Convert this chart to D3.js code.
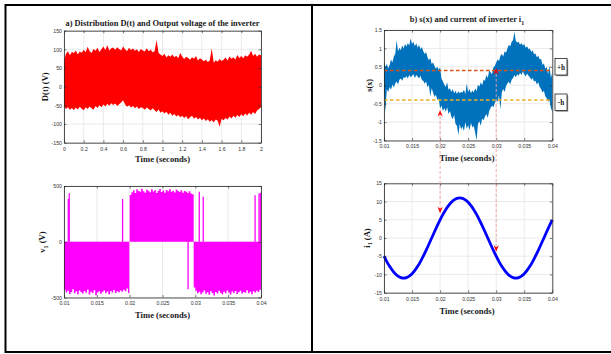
<!DOCTYPE html>
<html>
<head>
<meta charset="utf-8">
<script src="https://cdn.jsdelivr.net/npm/d3@7/dist/d3.min.js"></script>
<style>
    body { margin: 0; background: #fff; }
    svg { display: block; }
    .tick text { font-family: "Liberation Sans", Arial, sans-serif; font-size: 5.2px; fill: #333; }
    .lbl { font-family: "Liberation Serif", "Times New Roman", serif; font-weight: bold; fill: #1a1a1a; }
</style>
</head>
<body>
<div id="chart"></div>
<script>
// ---- data ----

// a) D(t), sampled every 0.02 s from 0 to 2 s (upper / lower edge of the red band)
const dStep = 0.02
const dUpper = [68, 88, 95, 84, 93, 90, 97, 86, 94, 91, 99, 92, 107, 95, 90, 101, 96, 104, 93, 100, 108,
    98, 111, 97, 103, 105, 99, 106, 101, 97, 108, 100, 95, 104, 98, 102, 96, 100, 93, 101, 97,
    94, 103, 95, 99, 92, 95, 125, 90, 86, 82, 88, 78, 84, 80, 86, 79, 83, 76, 90, 81,
    74, 80, 77, 72, 79, 75, 82, 70, 76, 73, 68, 72, 66, 70, 103, 64, 71, 67, 74, 69,
    72, 78, 70, 81, 75, 79, 73, 85, 77, 82, 76, 84, 80, 86, 96, 82, 88, 80, 86, 84]
const dLower = [-52, -60, -55, -62, -57, -63, -56, -61, -54, -59, -63, -55, -60, -53, -58, -62, -52, -57, -50, -55, -48,
    -53, -46, -51, -44, -49, -45, -52, -47, -42, -36, -48, -54, -50, -56, -52, -58, -53, -60, -55, -57,
    -62, -56, -60, -64, -58, -63, -68, -61, -70, -66, -72, -67, -75, -70, -78, -73, -80, -76, -82, -78,
    -84, -79, -87, -82, -78, -86, -81, -88, -83, -90, -85, -92, -87, -94, -89, -96, -88, -91, -107, -86,
    -90, -84, -88, -80, -85, -78, -83, -76, -81, -74, -79, -72, -77, -70, -75, -68, -73, -64, -60, -55]

// v1 output voltage, sampled every 0.25 ms from 0.01 s (band edge, 0 = gap)
const vStep = 0.00025
const vEdge = [-430, -455, -440, -468, -450, -425, -462, -445, -470, -438, -452, -465, -442, -458, -430, -472, -448, -460, -436, -480,
    -455, -444, -466, -450, -438, -462, -447, -470, -441, -455, -432, -460, -445, -452, -438, -448, -430, -445, -420,
    0,
    420, 445, 462, 438, 470, 455, 448, 475, 452, 440, 466, 458, 445, 470, 450, 462, 438, 455, 472, 446,
    460, 440, 465, 452, 470, 448, 458, 442, 468, 455, 446, 462, 440, 456, 448, 438, 452, 432, 425,
    -410, -440, -462, -448, -470, -455, -438, -466, -452, -475, -445, -460, -482, -450, -465, -440, -458, -470, -448, -462,
    -438, -455, -472, -446, -460, -442, -468, -452, -440, -465, -450, -458, -436, -462, -448, -470, -444, -456, -440, -450, -430, -445]
// isolated switching spikes of v1
const vSpikeT = [0.01065, 0.0108, 0.01892, 0.01985, 0.0289, 0.0306, 0.0312, 0.0391, 0.0397, 0.0399]
const vSpikeV = [383, 436, 383, -460, -427, 448, 404, 418, 433, 440]

// b) s(x), sampled every 0.25 ms from 0.01 s (upper / lower edge of the blue band)
const sStep = 0.00025
const sUpper = [0.62, 0.50, 0.58, 0.46, 0.55, 0.70, 0.62, 0.78, 0.85, 1.23, 0.92, 1.02, 0.95, 1.08, 1.00, 1.12,
    1.05, 1.15, 1.08, 1.27, 1.12, 1.18, 1.06, 1.14, 1.02, 1.10, 0.98, 1.04, 0.92, 0.85, 0.90, 0.76,
    0.68, 0.74, 0.58, 0.62, 0.52, 0.45, 0.50, 0.42, 0.48, 0.18, 0.10, 0.02, -0.05, 0.08, -0.12, -0.08,
    -0.18, -0.10, -0.22, -0.15, -0.24, -0.16, -0.22, -0.18, -0.20, -0.12, -0.24, 0.05, -0.18, -0.10, -0.22, -0.14,
    -0.20, -0.08, -0.16, 0.02, -0.04, 0.08, 0.00, 0.15, 0.12, 0.28, 0.20, 0.41, 0.35, 0.30, 0.48, 0.52,
    0.62, 0.70, 0.66, 0.80, 0.85, 0.78, 0.92, 0.88, 1.00, 1.10, 1.05, 1.18, 1.22, 1.45, 1.20, 1.16,
    1.18, 1.10, 1.15, 1.08, 1.12, 1.02, 1.06, 0.98, 1.00, 0.90, 0.95, 0.84, 0.86, 0.76, 0.80, 0.70,
    0.72, 0.55, 0.60, 0.45, 0.50, 0.30, 0.52, 0.20, 0.35]
const sLower = [-0.15, -0.72, -0.10, -0.18, -0.05, -0.12, 0.02, -0.06, 0.05, 0.10, 0.02, 0.15, 0.18, 0.12, 0.22, 0.20,
    0.25, 0.18, 0.28, 0.22, 0.26, 0.30, 0.20, 0.28, 0.24, 0.18, 0.26, 0.14, 0.12, 0.04, 0.10, -0.05,
    0.00, -0.30, -0.08, -0.20, -0.32, -0.26, -0.40, -0.35, -0.63, -0.55, -0.70, -0.62, -0.72, -0.60, -0.78, -0.70,
    -0.85, -0.92, -0.80, -1.05, -1.10, -1.35, -1.05, -1.20, -1.12, -1.25, -1.00, -1.18, -1.08, -1.22, -1.02, -1.15,
    -1.10, -1.28, -1.49, -1.05, -0.98, -1.10, -0.90, -0.95, -0.85, -0.78, -0.88, -0.70, -0.62, -0.55, -0.60, -0.48,
    -0.40, -0.45, -0.28, -0.65, -0.20, -0.10, -0.18, -0.02, 0.05, 0.10, 0.02, 0.15, 0.20, 0.28, 0.22, 0.30,
    0.26, 0.34, 0.28, 0.37, 0.30, 0.24, 0.32, 0.26, 0.22, 0.15, 0.20, 0.10, 0.12, 0.02, 0.08, -0.05,
    -0.10, -0.20, -0.15, -0.30, -0.35, -0.45, -0.40, -0.62, -0.72]
const hPlus = 0.4, hMinus = -0.4

// inverter current i1, sampled every 0.5 ms from 0.01 s
const iStep = 0.0005
const iVal = [-4.99, -6.47, -7.78, -8.90, -9.80, -10.46, -10.86, -11.0, -10.86, -10.46, -9.80, -8.90, -7.78, -6.47,
    -4.99, -3.40, -1.72, 0, 1.72, 3.40, 4.99, 6.47, 7.78, 8.90, 9.80, 10.46, 10.86, 11.0, 10.86, 10.46,
    9.80, 8.90, 7.78, 6.47, 4.99, 3.40, 1.72, 0, -1.72, -3.40, -4.99, -6.47, -7.78, -8.90, -9.80, -10.46,
    -10.86, -11.0, -10.86, -10.46, -9.80, -8.90, -7.78, -6.47, -4.99, -3.40, -1.72, 0, 1.72, 3.40, 4.99]

// switching instants marked by the red arrows
const arrowT = [0.02, 0.03]
const arrowS = [-0.67, 0.47]   // arrow tips on s(x)
const arrowI = [6.8, -3.75]    // arrow tips on i1

// tick labels
const xTicksD = [0, 0.2, 0.4, 0.6, 0.8, 1, 1.2, 1.4, 1.6, 1.8, 2]
const yTicksD = [-150, -100, -50, 0, 50, 100, 150]
const xTicksT = [0.01, 0.015, 0.02, 0.025, 0.03, 0.035, 0.04]
const yTicksV = [-500, 0, 500]
const yTicksS = [-1.5, -1, -0.5, 0, 0.5, 1, 1.5]
const yTicksI = [-15, -10, -5, 0, 5, 10, 15]

// ---- drawing ----
const svg = d3.select("#chart").append("svg")
    .attr("width", 611)
    .attr("height", 354)

// outer frame + divider
svg.append("rect")
    .attr("x", 5.5).attr("y", 5).attr("width", 640).attr("height", 347)
    .attr("fill", "none").attr("stroke", "#000").attr("stroke-width", 2)
svg.append("line")
    .attr("x1", 312).attr("x2", 312).attr("y1", 5).attr("y2", 352)
    .attr("stroke", "#000").attr("stroke-width", 2)

function panel(x, y, xTicks, yTicks) {
    const g = svg.append("g")
    const [x0, x1] = x.range()
    const [y0, y1] = y.range()
    const grid = g.append("g").attr("stroke", "#e2e2e2").attr("stroke-width", 0.7)
    grid.selectAll(".gx").data(xTicks).join("line")
        .attr("x1", d => x(d)).attr("x2", d => x(d)).attr("y1", y0).attr("y2", y1)
    grid.selectAll(".gy").data(yTicks).join("line")
        .attr("y1", d => y(d)).attr("y2", d => y(d)).attr("x1", x0).attr("x2", x1)
    const data = g.append("g")
    const axes = g.append("g")
    return { g, data, axes, draw() {
        const fmt = d => String(d)
        const none = () => ""
        const style = sel => {
            sel.selectAll("path.domain").attr("stroke", "#262626").attr("stroke-width", 0.8)
            sel.selectAll(".tick line").attr("stroke", "#262626").attr("stroke-width", 0.6)
        }
        axes.append("g").attr("transform", `translate(0,${y0})`)
            .call(d3.axisBottom(x).tickValues(xTicks).tickFormat(fmt).tickSize(-2.5).tickSizeOuter(0).tickPadding(4.3))
            .call(style)
        axes.append("g").attr("transform", `translate(0,${y1})`)
            .call(d3.axisTop(x).tickValues(xTicks).tickFormat(none).tickSize(-2.5).tickSizeOuter(0))
            .call(style)
        axes.append("g").attr("transform", `translate(${x0},0)`)
            .call(d3.axisLeft(y).tickValues(yTicks).tickFormat(fmt).tickSize(-2.5).tickSizeOuter(0).tickPadding(2))
            .call(style)
        axes.append("g").attr("transform", `translate(${x1},0)`)
            .call(d3.axisRight(y).tickValues(yTicks).tickFormat(none).tickSize(-2.5).tickSizeOuter(0))
            .call(style)
        axes.selectAll("text").attr("font-family", null).attr("font-size", null)
    }}
}

function label(text, x, y, size, rotate) {
    const t = svg.append("text").attr("class", "lbl")
        .attr("font-size", size)
        .attr("text-anchor", "middle")
        .attr("transform", `translate(${x},${y})` + (rotate ? " rotate(-90)" : ""))
    return t
}

// a) top: D(t)
const xD = d3.scaleLinear().domain([0, 2]).range([64, 261])
const yD = d3.scaleLinear().domain([-150, 150]).range([142.7, 30.7])
const pD = panel(xD, yD, xTicksD, yTicksD)
pD.data.append("path")
    .datum(dUpper.map((u, i) => ({ t: i * dStep, hi: u, lo: dLower[i] })))
    .attr("fill", "#ff0000")
    .attr("d", d3.area().x(d => xD(d.t)).y0(d => yD(d.lo)).y1(d => yD(d.hi)))
pD.draw()
label("", 162.5, 26, 8.4).text("a) Distribution D(t) and Output voltage of the inverter")
label("", 162.5, 161.5, 8.6).text("Time (seconds)")
label("", 48, 86.7, 8.6, true).text("D(t) (V)")

// a) bottom: v1
const xV = d3.scaleLinear().domain([0.01, 0.04]).range([64, 261])
const yV = d3.scaleLinear().domain([-500, 500]).range([297.5, 186])
const pV = panel(xV, yV, xTicksT, yTicksV)
pV.data.append("path")
    .datum(vEdge.map((v, i) => ({ t: 0.01 + i * vStep, v })))
    .attr("fill", "#ff00ff")
    .attr("d", d3.area().curve(d3.curveStepAfter).x(d => xV(d.t)).y0(yV(0)).y1(d => yV(d.v)))
pV.data.selectAll("line.spike").data(vSpikeT).join("line")
    .attr("x1", d => xV(d)).attr("x2", d => xV(d))
    .attr("y1", yV(0)).attr("y2", (d, i) => yV(vSpikeV[i]))
    .attr("stroke", "#ff00ff").attr("stroke-width", 1.3)
pV.draw()
label("", 162.5, 318, 8.6).text("Time (seconds)")
const vl = label("", 45, 242, 8.6, true)
vl.append("tspan").text("v")
vl.append("tspan").attr("font-size", 6).attr("dy", 2.5).text("1")
vl.append("tspan").attr("dy", -2.5).text(" (V)")

// b) top: s(x)
const xS = d3.scaleLinear().domain([0.01, 0.04]).range([384, 552.3])
const yS = d3.scaleLinear().domain([-1.5, 1.5]).range([140.5, 30])
const pS = panel(xS, yS, xTicksT, yTicksS)
pS.data.append("path")
    .datum(sUpper.map((u, i) => ({ t: 0.01 + i * sStep, hi: u, lo: sLower[i] })))
    .attr("fill", "#0072bd")
    .attr("d", d3.area().x(d => xS(d.t)).y0(d => yS(d.lo)).y1(d => yS(d.hi)))
pS.data.append("line")
    .attr("x1", xS(0.01)).attr("x2", xS(0.04)).attr("y1", yS(hPlus)).attr("y2", yS(hPlus))
    .attr("stroke", "#d95319").attr("stroke-width", 1.3).attr("stroke-dasharray", "3.5,2.5")
pS.data.append("line")
    .attr("x1", xS(0.01)).attr("x2", xS(0.04)).attr("y1", yS(hMinus)).attr("y2", yS(hMinus))
    .attr("stroke", "#edb120").attr("stroke-width", 1.6).attr("stroke-dasharray", "3.5,2.5")
pS.draw()
const st = label("", 467, 21.5, 8.4)
st.append("tspan").text("b) s(x) and current of inverter i")
st.append("tspan").attr("font-size", 6).attr("dy", 3).text("1")
label("", 467, 161, 8.6).text("Time (seconds)")
label("", 372, 85.3, 8.2, true).text("s(x)")

// +h / -h tags
const tags = [{ txt: "+h", y: 58.5 }, { txt: "-h", y: 94 }]
tags.forEach(d => {
    svg.append("rect").attr("x", 556.2).attr("y", d.y + 1.2).attr("width", 12).attr("height", 16.5).attr("fill", "#8a8a8a")
    svg.append("rect").attr("x", 555).attr("y", d.y).attr("width", 12).attr("height", 16.5)
        .attr("fill", "#fff").attr("stroke", "#222").attr("stroke-width", 0.8)
    label("", 561, d.y + 11, 7.2).text(d.txt)
})

// b) bottom: i1
const xI = d3.scaleLinear().domain([0.01, 0.04]).range([384, 552.3])
const yI = d3.scaleLinear().domain([-15, 15]).range([292.7, 183.3])
const pI = panel(xI, yI, xTicksT, yTicksI)
pI.data.append("path")
    .datum(iVal.map((v, i) => ({ t: 0.01 + i * iStep, v })))
    .attr("fill", "none").attr("stroke", "#0000ff").attr("stroke-width", 2.8)
    .attr("d", d3.line().curve(d3.curveCatmullRom).x(d => xI(d.t)).y(d => yI(d.v)))
pI.draw()
label("", 467, 313.5, 8.6).text("Time (seconds)")
const il = label("", 369.5, 238, 8.6, true)
il.append("tspan").text("i")
il.append("tspan").attr("font-size", 6).attr("dy", 2.5).text("1")
il.append("tspan").attr("dy", -2.5).text(" (A)")

// switching arrows and the dashed links between the two plots
const links = svg.append("g")
arrowT.forEach((t, k) => {
    const xs = xS(t)
    const yTop = yS(arrowS[k])
    const yBot = yI(arrowI[k])
    links.append("line")
        .attr("x1", xs).attr("x2", xs).attr("y1", yTop + 6).attr("y2", yBot - 6)
        .attr("stroke", "#f2a0a0").attr("stroke-width", 0.9).attr("stroke-dasharray", "3,2")
    links.append("path")
        .attr("d", `M${xs},${yTop}L${xs - 2.6},${yTop + 6.5}L${xs},${yTop + 4.5}L${xs + 2.6},${yTop + 6.5}Z`)
        .attr("fill", "#ff0000")
    links.append("path")
        .attr("d", `M${xs},${yBot}L${xs - 2.6},${yBot - 6.5}L${xs},${yBot - 4.5}L${xs + 2.6},${yBot - 6.5}Z`)
        .attr("fill", "#ff0000")
})
</script>
</body>
</html>
